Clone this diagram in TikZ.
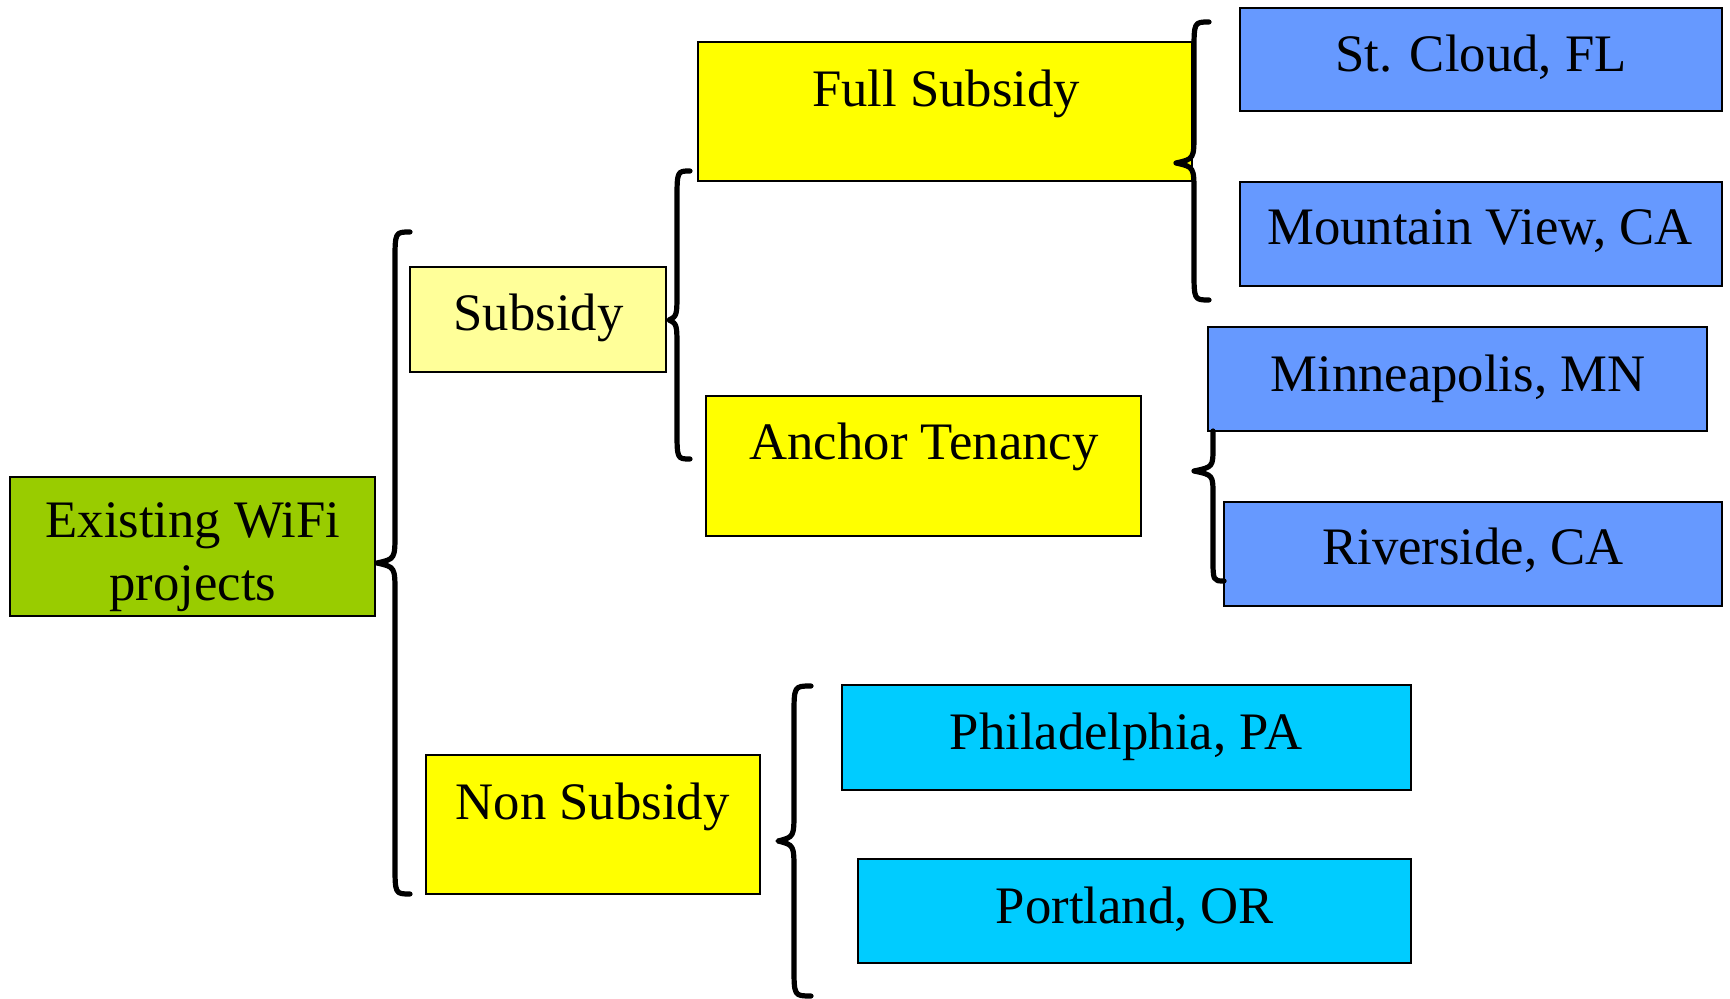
\documentclass[tikz,border=0pt]{standalone}
\usepackage{fontspec}
\setmainfont{Liberation Serif}
\definecolor{leaf}{HTML}{99CC00}
\definecolor{paleyellow}{HTML}{FFFF99}
\definecolor{brightyellow}{HTML}{FFFF00}
\definecolor{cornflower}{HTML}{6699FF}
\definecolor{skyblue}{HTML}{00CCFF}

\tikzset{
  box/.style={draw=black, line width=1pt, inner sep=0pt, outer sep=0pt},
  lbl/.style={inner sep=0pt, anchor=base, align=center,
              font=\fontsize{26.35}{31.5}\selectfont},
  bracket/.style={draw=black, line width=2.6pt, line join=round, line cap=round}
}

% curly brace: #1 stem x, #2 end x, #3 tip x, #4 top y, #5 tip y, #6 bottom y
\newcommand\curlybrace[6]{%
  \draw[bracket] (#2,#4) .. controls (#1,#4) .. (#1,#4+30)
    -- (#1,#5-30) .. controls (#1,#5-4) .. (#3,#5)
    .. controls (#1,#5+4) .. (#1,#5+30)
    -- (#1,#6-30) .. controls (#1,#6) .. (#2,#6);}

\begin{document}
\begin{tikzpicture}[x=0.5pt,y=-0.5pt]
\useasboundingbox (0,0) rectangle (1730,999);

% boxes
\node[box, fill=leaf,         minimum width=182.5pt, minimum height=69.5pt] (root)  at (192.5,546.5) {};
\node[box, fill=paleyellow,   minimum width=128pt,   minimum height=52.5pt] (sub)   at (538,319.5)   {};
\node[box, fill=brightyellow, minimum width=247pt,   minimum height=69.5pt] (full)  at (945,111.5)   {};
\node[box, fill=brightyellow, minimum width=217.5pt, minimum height=70pt]   (anch)  at (923.5,466)   {};
\node[box, fill=brightyellow, minimum width=167pt,   minimum height=69.5pt] (non)   at (593,824.5)   {};
\node[box, fill=cornflower,   minimum width=241pt,   minimum height=51.5pt] (stc)   at (1481,59.5)   {};
\node[box, fill=cornflower,   minimum width=241pt,   minimum height=52pt]   (mv)    at (1481,234)    {};
\node[box, fill=cornflower,   minimum width=249.5pt, minimum height=52pt]   (mpls)  at (1457.5,379)  {};
\node[box, fill=cornflower,   minimum width=249pt,   minimum height=52pt]   (rvs)   at (1473,554)    {};
\node[box, fill=skyblue,      minimum width=284.5pt, minimum height=52.5pt] (phl)   at (1126.5,737.5) {};
\node[box, fill=skyblue,      minimum width=276.5pt, minimum height=52pt]   (pdx)   at (1134.5,911)  {};

% labels (base anchor of a two-line label sits on its last line)
\node[lbl] (troot) at (193,601)   {Existing WiFi\\projects};
\node[lbl] (tsub)  at (538.5,331) {Subsidy};
\node[lbl] (tfull) at (946,107)   {Full Subsidy};
\node[lbl] (tanch) at (924,460)   {Anchor Tenancy};
\node[lbl] (tnon)  at (592.5,819) {Non Subsidy};
\node[lbl] (tstc)  at (1481,72)   {St. Cloud, FL};
\node[lbl] (tmv)   at (1480,245)  {Mountain View, CA};
\node[lbl] (tmpls) at (1458,392)  {Minneapolis, MN};
\node[lbl] (trvs)  at (1473,565)  {Riverside, CA};
\node[lbl] (tphl)  at (1126,749)  {Philadelphia, PA};
\node[lbl] (tpdx)  at (1135,923)  {Portland, OR};

% braces
\curlybrace{395}{410}{377}{232}{563}{894}
\curlybrace{677}{690}{669}{171}{320}{459}
\curlybrace{1194}{1209}{1176}{22}{163}{300}
\curlybrace{794}{811}{778}{686}{841}{996}
\draw[bracket] (1213,431) -- (1213,471-24) .. controls (1213,467) .. (1194,471)
  .. controls (1213,475) .. (1213,471+24) -- (1213,581-24)
  .. controls (1213,581) .. (1224,581);
\end{tikzpicture}
\end{document}
